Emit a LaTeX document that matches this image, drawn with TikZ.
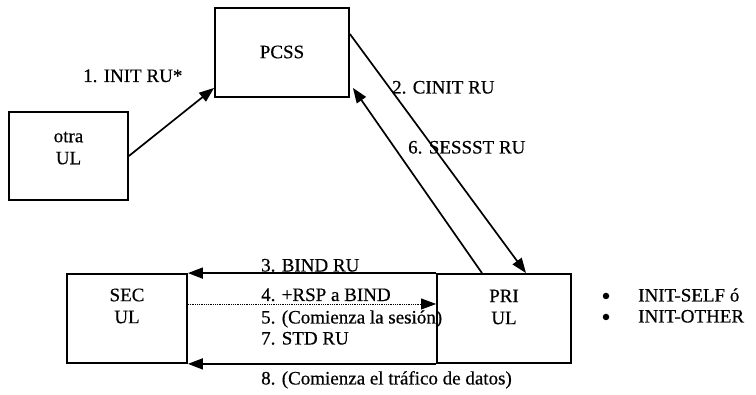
\documentclass[tikz,border=0pt]{standalone}
\usepackage{fontspec}
\setmainfont{Liberation Serif}
\newfontfamily\scanfont{Liberation Serif}[FakeBold=0.5]
\usetikzlibrary{arrows.meta}
\begin{document}
\begin{tikzpicture}[x=1pt,y=-1pt,
  box/.style={draw, line width=1.8pt, inner sep=0pt},
  txt/.style={font=\scanfont\fontsize{19}{22}\selectfont, inner sep=0pt, align=center},
  lbl/.style={font=\scanfont\fontsize{19}{22}\selectfont, inner sep=0pt, anchor=base west},
  dot/.style={circle, fill, inner sep=0pt, minimum size=6.5pt},
  conn/.style={line width=1.7pt, -{Triangle[length=15pt,width=11pt]}},
  dotconn/.style={line width=0.8pt, dash pattern=on 1pt off 0.8pt, -{Triangle[length=15pt,width=11pt]}},
  ]
\useasboundingbox (0,0) rectangle (756,395);
% boxes
\node[box, minimum width=134pt, minimum height=89pt] (pcss) at (282,52.5) {};
\node[box, minimum width=119pt, minimum height=88pt] (otra) at (68.5,156) {};
\node[box, minimum width=120pt, minimum height=89pt] (sec) at (127,318.5) {};
\node[box, minimum width=134pt, minimum height=89pt] (pri) at (504,318.5) {};
% box texts
\node[txt] (pcsst) at (282,52) {PCSS};
\node[txt] (otrat) at (68.5,148) {otra\\UL};
\node[txt] (sect) at (127,306) {SEC\\UL};
\node[txt] (prit) at (504,307) {PRI\\UL};
% connectors
\draw[conn] (otra.east) -- ([yshift=10pt]pcss.south west);
\draw[conn] ([yshift=18.5pt]pcss.east) -- ([xshift=22pt]pri.north);
\draw[conn] ([xshift=-22pt]pri.north) -- ([xshift=3pt,yshift=10pt]pcss.south east);
\draw[conn] (pri.north west) -- (sec.north east);
\draw[dotconn] ([yshift=14.5pt]sec.east) -- ([yshift=14.5pt]pri.west);
\draw[conn] (pri.south west) -- (sec.south east);
% labels
\node[lbl] (l1) at (83,82) {1. INIT RU*};
\node[lbl] (l2) at (392,93.5) {2. CINIT RU};
\node[lbl] (l6) at (408,153.5) {6. SESSST RU};
\node[lbl] (l3) at (261,271.5) {3. BIND RU};
\node[lbl] (l4) at (261,301) {4. +RSP a BIND};
\node[lbl] (l5) at (261,323.5) {5. (Comienza la sesión)};
\node[lbl] (l7) at (261,344.5) {7. STD RU};
\node[lbl] (l8) at (261,384.5) {8. (Comienza el tráfico de datos)};
% bullets
\node[dot] (b1) at (606,296) {};
\node[lbl] (b1t) at (638,301.5) {INIT-SELF ó};
\node[dot] (b2) at (606,317) {};
\node[lbl] (b2t) at (638,322.5) {INIT-OTHER};
\end{tikzpicture}
\end{document}
